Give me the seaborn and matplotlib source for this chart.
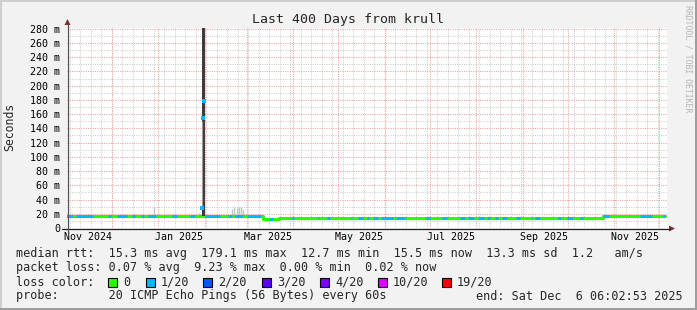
import numpy as np
import pandas as pd
import matplotlib
matplotlib.use("Agg")
import matplotlib.pyplot as plt
import matplotlib.dates as mdates
from matplotlib.patches import Rectangle, Polygon
from matplotlib.lines import Line2D
import seaborn as sns

# ---------------- data ----------------
start = pd.Timestamp("2024-11-01 06:02:53")
end = pd.Timestamp("2025-12-06 06:02:53")

# median rtt, piecewise level (days since start, ms)
level_start_days = [0, 130.7, 141, 261, 357, 381]
level_ms = [16.5, 12.7, 13.4, 14.3, 16.3, 17.0]
data_end_day = 398.7

# periods with 1/20 packet loss (days since start)
loss1_start = [0, 6, 27, 33, 43, 49, 54, 70, 82, 92, 107, 112, 120, 135, 150, 167, 173,
               189, 194, 200, 204, 209, 219, 239, 250, 262, 267, 274, 280, 285, 290, 299,
               309, 312, 327, 333, 342, 357, 382, 397]
loss1_end = [4, 17, 29, 40, 45, 51, 59, 73, 85, 102, 110, 117, 129, 137, 151, 168, 175,
             190, 197, 201, 207, 217, 225, 242, 253, 265, 271, 278, 282, 287, 293, 302,
             310, 315, 329, 337, 344, 361, 390, 398.7]

# outage spike around end of January
spike_days = [90.0, 90.5, 91.5]
spike_ms = [28.0, 154.0, 179.1]
spike_smoke_from_day = 90.3
spike_smoke_to_day = 91.9

# light smoke bumps
smoke_days = [22, 35, 45, 58, 72, 88, 110, 111.5, 113, 114.5, 116, 117.5]
smoke_top_ms = [19, 20, 20, 29, 21, 21, 27, 30, 28, 30, 29, 26]

loss_labels = ["0", "1/20", "2/20", "3/20", "4/20", "10/20", "19/20"]
loss_colors = ["#26ff00", "#00b8ff", "#0059ff", "#5e00ff", "#7e00ff", "#dd00ff", "#ff0000"]

y_ticks = list(range(0, 281, 20))
month_labels = ["2024-11-15", "2025-01-15", "2025-03-15", "2025-05-15",
                "2025-07-15", "2025-09-15", "2025-11-15"]

legend_rtt = "median rtt:  15.3 ms avg  179.1 ms max  12.7 ms min  15.5 ms now  13.3 ms sd  1.2   am/s"
legend_loss = "packet loss: 0.07 % avg  9.23 % max  0.00 % min  0.02 % now"
legend_probe = "probe:       20 ICMP Echo Pings (56 Bytes) every 60s"
legend_end = "end: Sat Dec  6 06:02:53 2025"

# ---------------- drawing ----------------
def d2t(days):
    return start + pd.to_timedelta(np.asarray(days, dtype=float), unit="D")

sns.set_theme(style="white")
plt.rcParams["font.family"] = ["DejaVu Sans Mono"]

W, H = 697, 310
fig = plt.figure(figsize=(W / 100, H / 100), dpi=100, facecolor="#f2f2f2")
ax = fig.add_axes([67 / W, (H - 228) / H, 600 / W, 200 / H])
ax.set_facecolor("white")

x0, x1 = mdates.date2num(start), mdates.date2num(end)
ax.set_xlim(x0, x1)
ax.set_ylim(0, 281)

minor_col = "#cfcfcf"
major_col = "#eea0a0"
dot = (0, (1, 1.2))
for v in range(10, 281, 20):
    ax.axhline(v, color=minor_col, lw=0.75, ls=dot, zorder=1)
for v in range(20, 281, 20):
    ax.axhline(v, color=major_col, lw=0.75, ls=dot, zorder=1.1)
for d in pd.date_range("2024-11-03", end, freq="W-SUN"):
    ax.axvline(mdates.date2num(d), color=minor_col, lw=0.75, ls=dot, zorder=1)
for d in pd.date_range("2024-12-01", end, freq="MS"):
    ax.axvline(mdates.date2num(d), color=major_col, lw=0.75, ls=dot, zorder=1.1)

# smoke
ax.vlines(mdates.date2num(d2t(smoke_days)), [l for l in [16.5] * len(smoke_days)],
          smoke_top_ms, color="#c4c4c4", lw=1.0, zorder=2)

# median line (no loss)
step_df = pd.DataFrame({
    "t": d2t(level_start_days + [data_end_day]),
    "ms": level_ms + [level_ms[-1]],
})
sns.lineplot(data=step_df, x="t", y="ms", drawstyle="steps-post", color=loss_colors[0],
             lw=2.2, estimator=None, ax=ax, zorder=3)

# 1/20 loss segments
lvl_idx = np.searchsorted(level_start_days, loss1_start, side="right") - 1
ax.hlines([level_ms[i] for i in lvl_idx], d2t(loss1_start), d2t(loss1_end),
          color=loss_colors[1], lw=2.2, zorder=3.5)

# spike smoke column
ax.fill_between(d2t([spike_smoke_from_day, spike_smoke_to_day]), 17, 300,
                color="#3c3c3c", lw=0, zorder=4)
ax.vlines(mdates.date2num(d2t([89.9])), 30, 150, color="#9a9a9a", lw=0.8, zorder=4)
sns.scatterplot(x=d2t(spike_days), y=spike_ms, marker="s", s=6, color=loss_colors[1],
                linewidth=0, ax=ax, zorder=5)

# ticks
ax.set_yticks(y_ticks)
ax.set_yticklabels(["0"] + [f"{v} m" for v in y_ticks[1:]])
ax.set_xticks(mdates.date2num(pd.to_datetime(month_labels)))
ax.set_xticklabels([pd.Timestamp(m).strftime("%b %Y") for m in month_labels])
ax.tick_params(axis="both", length=0, labelsize=7.2, colors="black")
ax.tick_params(axis="y", pad=5)
ax.tick_params(axis="x", pad=3)
ax.set_xlabel("")
ax.set_ylabel("")
for s in ax.spines.values():
    s.set_visible(False)

# axes lines and arrows (figure pixel coordinates)
def fx(px):
    return px / W

def fy(py):
    return 1 - py / H

fig.add_artist(Line2D([fx(62), fx(670)], [fy(228.5), fy(228.5)], color="#202020", lw=0.9))
fig.add_artist(Line2D([fx(67.5), fx(67.5)], [fy(232), fy(25)], color="#505050", lw=0.9))
fig.add_artist(Polygon([[fx(64.5), fy(25)], [fx(70.5), fy(25)], [fx(67.5), fy(19)]],
                       closed=True, color="#802f2f", lw=0))
fig.add_artist(Polygon([[fx(669), fy(225.5)], [fx(669), fy(231.5)], [fx(675), fy(228.5)]],
                       closed=True, color="#802f2f", lw=0))

# frame
fig.add_artist(Rectangle((0, 0), fx(2), 1, color="#cfcfcf", lw=0))
fig.add_artist(Rectangle((0, fy(2)), 1, 2 / H, color="#cfcfcf", lw=0))
fig.add_artist(Rectangle((0, 0), 1, 2 / H, color="#9e9e9e", lw=0))
fig.add_artist(Rectangle((fx(695), 0), 2 / W, 1, color="#9e9e9e", lw=0))

# texts
fig.text(fx(347.5), fy(19), "Last 400 Days from krull", ha="center", va="center", fontsize=9.5)
fig.text(fx(10), fy(127), "Seconds", ha="center", va="center", rotation=90, fontsize=8.3)
fig.text(fx(688), fy(59), "RRDTOOL / TOBI OETIKER", ha="center", va="center",
         rotation=270, fontsize=5.9, color="#b4b4b4")

fs = 8.5
fig.text(fx(16), fy(254), legend_rtt, ha="left", va="center", fontsize=fs)
fig.text(fx(16), fy(268), legend_loss, ha="left", va="center", fontsize=fs)
fig.text(fx(16), fy(282), "loss color:", ha="left", va="center", fontsize=fs)
square_x = [108, 146, 203, 262, 320, 378, 442]
for sx, lab, col in zip(square_x, loss_labels, loss_colors):
    fig.add_artist(Rectangle((fx(sx), fy(286.5)), 8.5 / W, 9 / H, facecolor=col,
                             edgecolor="black", lw=0.8))
    fig.text(fx(sx + 15), fy(282), lab, ha="left", va="center", fontsize=fs)
fig.text(fx(16), fy(296), legend_probe, ha="left", va="center", fontsize=fs)
fig.text(fx(683), fy(296), legend_end, ha="right", va="center", fontsize=fs)

fig.savefig("out.png", dpi=100, facecolor=fig.get_facecolor())
